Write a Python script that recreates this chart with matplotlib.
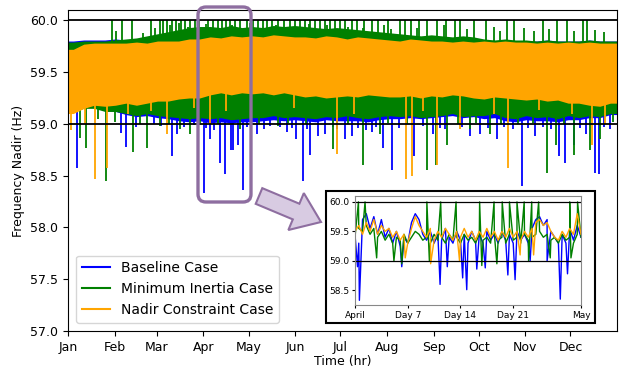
import numpy as np
import matplotlib.pyplot as plt
from matplotlib.patches import FancyBboxPatch, FancyArrow, Rectangle

# ---- main chart data (weekly envelopes) ----
months = ['Jan', 'Feb', 'Mar', 'Apr', 'May', 'Jun', 'Jul', 'Aug', 'Sep', 'Oct', 'Nov', 'Dec']
month_hours = [0, 744, 1416, 2160, 2880, 3624, 4344, 5088, 5832, 6552, 7296, 8016]

orange_hi = [59.72, 59.77, 59.78, 59.78, 59.78, 59.78, 59.79, 59.78, 59.80, 59.80, 59.80, 59.82, 59.82,
             59.84, 59.83, 59.85, 59.84, 59.85, 59.84, 59.86, 59.85, 59.84, 59.84, 59.83, 59.85, 59.84,
             59.82, 59.84, 59.83, 59.82, 59.81, 59.80, 59.82, 59.81, 59.80, 59.80, 59.79, 59.80, 59.79,
             59.80, 59.79, 59.80, 59.79, 59.79, 59.78, 59.79, 59.78, 59.79, 59.78, 59.79, 59.78, 59.78]
orange_lo = [59.10, 59.15, 59.18, 59.17, 59.18, 59.20, 59.18, 59.20, 59.22, 59.22, 59.24, 59.25, 59.25,
             59.28, 59.30, 59.28, 59.30, 59.29, 59.30, 59.28, 59.30, 59.28, 59.26, 59.27, 59.25, 59.26,
             59.27, 59.26, 59.28, 59.27, 59.26, 59.26, 59.27, 59.25, 59.27, 59.26, 59.28, 59.27, 59.25,
             59.24, 59.26, 59.25, 59.24, 59.23, 59.24, 59.22, 59.23, 59.20, 59.20, 59.18, 59.17, 59.20]
green_hi = [59.79, 59.80, 59.80, 59.80, 59.81, 59.82, 59.83, 59.85, 59.87, 59.89, 59.91, 59.93, 59.94,
            59.94, 59.93, 59.95, 59.93, 59.94, 59.93, 59.95, 59.94, 59.95, 59.94, 59.93, 59.92, 59.93,
            59.92, 59.91, 59.90, 59.89, 59.88, 59.87, 59.86, 59.85, 59.86, 59.85, 59.84, 59.85, 59.84,
            59.82, 59.81, 59.82, 59.81, 59.81, 59.80, 59.81, 59.80, 59.80, 59.80, 59.81, 59.80, 59.80]
green_lo = [59.12, 59.15, 59.15, 59.12, 59.12, 59.10, 59.08, 59.10, 59.08, 59.07, 59.06, 59.05, 59.06,
            59.05, 59.06, 59.04, 59.05, 59.06, 59.06, 59.08, 59.06, 59.07, 59.06, 59.05, 59.07, 59.06,
            59.08, 59.06, 59.05, 59.07, 59.08, 59.07, 59.08, 59.06, 59.07, 59.08, 59.10, 59.07, 59.08,
            59.08, 59.10, 59.06, 59.05, 59.08, 59.06, 59.07, 59.05, 59.08, 59.06, 59.08, 59.07, 59.10]
blue_hi = [59.80, 59.81, 59.81, 59.81, 59.82, 59.81, 59.82, 59.82, 59.82, 59.83, 59.84, 59.85, 59.85,
           59.86, 59.85, 59.86, 59.85, 59.86, 59.85, 59.86, 59.85, 59.86, 59.85, 59.85, 59.84, 59.85,
           59.84, 59.84, 59.83, 59.83, 59.82, 59.82, 59.82, 59.81, 59.81, 59.81, 59.80, 59.81, 59.80,
           59.81, 59.80, 59.81, 59.80, 59.80, 59.80, 59.81, 59.80, 59.80, 59.80, 59.81, 59.80, 59.80]
blue_lo = [59.14, 59.16, 59.16, 59.13, 59.12, 59.09, 59.07, 59.08, 59.06, 59.05, 59.03, 59.02, 59.03,
           59.01, 59.02, 59.01, 59.02, 59.02, 59.03, 59.04, 59.03, 59.04, 59.03, 59.02, 59.04, 59.03,
           59.03, 59.03, 59.02, 59.04, 59.05, 59.05, 59.06, 59.05, 59.06, 59.07, 59.08, 59.06, 59.07,
           59.05, 59.06, 59.03, 59.02, 59.04, 59.03, 59.03, 59.02, 59.04, 59.04, 59.06, 59.06, 59.09]

# spikes: (day of year, frequency)
blue_dips = [(5.8, 58.57), (35, 58.91), (38.4, 58.78), (45, 58.97), (57.2, 59.0), (69.2, 58.69),
             (72.5, 58.9), (90.4, 58.33), (94.4, 58.85), (101, 58.62), (104.4, 58.52), (108.2, 58.75),
             (109.7, 58.75), (113, 58.8), (116.6, 58.36), (125.7, 58.9), (130.3, 58.95), (145.6, 58.92),
             (151.6, 58.85), (156.3, 58.45), (161, 58.7), (166, 58.88), (171, 58.9), (184, 58.85),
             (189, 58.88), (202, 58.92), (209.5, 58.77), (215.3, 58.55), (230, 58.69), (242.7, 58.9),
             (250.7, 58.95), (267, 58.88), (274, 58.9), (285, 58.85), (301.7, 58.40), (310.5, 58.88),
             (326.5, 58.69), (330.5, 58.62), (336, 58.8), (344, 58.9), (350, 58.53), (353, 58.52),
             (360, 58.95), (62, 58.98), (77, 58.97), (84, 58.99), (92, 58.96), (97, 58.94),
             (119, 58.97), (134, 58.98), (141, 58.97), (149, 58.96), (159, 58.95), (176, 58.97),
             (179, 58.95), (193, 58.96), (198, 58.94), (205, 58.97), (220, 58.96), (236, 58.98),
             (247, 58.96), (262, 58.97), (279, 58.96), (290, 58.97), (296, 58.95), (306, 58.96),
             (316, 58.97), (321, 58.95), (340, 58.96), (356, 58.97)]
green_dips = [(8, 58.86), (11.8, 58.77), (25.5, 58.45), (43.4, 58.73), (52.7, 58.77), (61, 58.98),
              (74.5, 58.95), (81, 58.9), (114, 58.95), (139.7, 58.98), (176, 58.76), (196, 58.6),
              (207.5, 58.9), (238.5, 58.55), (244.7, 58.6), (252, 58.8), (267, 58.95), (280.6, 58.9),
              (318.3, 58.53), (324.5, 58.8), (336, 58.7), (347, 58.75), (353.8, 58.85),
              (20, 59.05), (31, 59.02), (48, 59.0), (67, 59.0), (88, 59.01), (100, 59.0), (127, 59.0),
              (146, 59.01), (158, 59.0), (186, 59.0), (213, 59.01), (225, 59.0), (259, 59.0),
              (271, 59.01), (288, 59.0), (299, 59.0), (309, 59.01), (330, 59.0), (362, 59.02)]
green_tops = [29.1, 35.9, 42.4, 55.0, 61.2, 63.2, 65.8, 69.2, 71.8, 75.1, 77.8, 81.1, 84.5, 87.1,
              93.0, 96.4, 99.8, 102.4, 105.1, 107.7, 111.1, 114.4, 119.0, 123.0, 126.4, 129.7, 132.4,
              135.7, 139.7, 143.5, 147.7, 151.0, 154.3, 157.6, 161.0, 164.3, 167.6, 170.9, 174.3,
              177.6, 180.9, 184.2, 188.9, 192.2, 197.0, 202.2, 206.2, 213.0, 220.8, 224.1, 228.1,
              233.0, 238.7, 245.4, 251.0, 257.4, 260.7, 270.0, 277.8, 292.0, 296.7, 316.0, 325.3,
              332.0, 342.0, 345.3]
green_mid_tops = [(32, 59.9), (50, 59.88), (58, 59.93), (68, 59.95), (74, 59.97), (80, 59.94),
                  (92, 59.96), (95, 59.93), (109, 59.95), (118, 59.93), (121, 59.97), (138, 59.95),
                  (143, 59.94), (160, 59.96), (172, 59.95), (186, 59.94), (196, 59.93), (210, 59.95),
                  (215, 59.92), (232, 59.93), (250, 59.95), (265, 59.92), (283, 59.94), (287, 59.9),
                  (303, 59.93), (310, 59.9), (320, 59.92), (336, 59.9), (350, 59.91), (356, 59.89)]
orange_dips = [(1.8, 58.94), (11, 59.0), (18, 58.47), (25.7, 58.57), (66, 58.9), (94.4, 59.0),
               (179, 58.71), (224.6, 58.47), (228.6, 58.5), (245.2, 58.6), (260.7, 58.95),
               (292.6, 58.57), (348.3, 58.8), (357, 59.0), (40, 59.1), (55, 59.12), (84, 59.15),
               (105, 59.12), (150, 59.15), (190, 59.1), (236, 59.12), (283, 59.1), (313, 59.13),
               (335, 59.1)]

# ---- inset data: April, 12-hourly base values plus spikes (hour, value) ----
april_hours = np.arange(0, 721, 12)
blue_april = [59.45, 59.3, 59.7, 59.8, 59.55, 59.75, 59.45, 59.7, 59.4, 59.55, 59.3, 59.5, 59.25,
              59.4, 59.3, 59.65, 59.8, 59.7, 59.45, 59.35, 59.5, 59.3, 59.45, 59.35, 59.55, 59.4,
              59.3, 59.5, 59.35, 59.45, 59.3, 59.5, 59.35, 59.45, 59.3, 59.5, 59.35, 59.45, 59.3,
              59.5, 59.35, 59.45, 59.3, 59.5, 59.35, 59.45, 59.3, 59.55, 59.7, 59.75, 59.6, 59.7,
              59.5, 59.4, 59.3, 59.45, 59.3, 59.55, 59.35, 59.6, 59.4]
green_april = [59.4, 59.55, 59.5, 59.6, 59.45, 59.55, 59.4, 59.5, 59.35, 59.45, 59.3, 59.4, 59.35,
               59.45, 59.3, 59.4, 59.5, 59.45, 59.35, 59.4, 59.3, 59.45, 59.35, 59.4, 59.3, 59.45,
               59.35, 59.4, 59.3, 59.45, 59.35, 59.4, 59.3, 59.45, 59.35, 59.4, 59.3, 59.45, 59.35,
               59.4, 59.3, 59.45, 59.35, 59.4, 59.3, 59.45, 59.35, 59.4, 59.45, 59.5, 59.4, 59.45,
               59.35, 59.4, 59.3, 59.45, 59.35, 59.4, 59.3, 59.45, 59.4]
orange_april = [59.5, 59.6, 59.45, 59.65, 59.5, 59.7, 59.45, 59.6, 59.5, 59.55, 59.4, 59.5, 59.35,
                59.45, 59.3, 59.55, 59.75, 59.6, 59.5, 59.4, 59.55, 59.35, 59.5, 59.4, 59.55, 59.45,
                59.35, 59.5, 59.4, 59.55, 59.4, 59.5, 59.35, 59.5, 59.4, 59.55, 59.4, 59.5, 59.35,
                59.5, 59.4, 59.55, 59.4, 59.5, 59.35, 59.5, 59.4, 59.55, 59.65, 59.7, 59.6, 59.65,
                59.5, 59.4, 59.35, 59.5, 59.4, 59.55, 59.45, 59.8, 59.45]
blue_april_spikes = [(8, 58.9), (14, 58.33), (149, 58.9), (271, 58.6), (294, 58.9), (343, 58.71),
                     (356, 58.51), (388, 58.86), (415, 58.88), (487, 58.76), (510, 58.68), (558, 59.0),
                     (612, 59.0), (654, 58.35), (677, 58.78)]
green_april_spikes = [(11, 60.0), (32, 60.0), (69, 59.05), (124, 59.0), (149, 58.95), (229, 60.0),
                      (237, 59.0), (273, 60.0), (322, 60.0), (397, 60.0), (404, 58.92), (443, 60.0),
                      (452, 58.95), (469, 60.0), (492, 60.0), (516, 60.0), (539, 60.0), (553, 59.0),
                      (563, 60.0), (585, 60.0), (622, 59.05), (684, 60.0), (688, 59.05), (709, 60.0)]
orange_april_spikes = [(160, 59.05), (241, 58.95), (333, 59.0), (526, 59.1), (569, 59.1)]

BLUE, GREEN, ORANGE = 'blue', 'green', 'orange'
PURPLE = '#8e6ea0'

plt.rcParams['font.family'] = 'DejaVu Sans'
fig = plt.figure(figsize=(6.24, 3.69), dpi=100)
ax = fig.add_axes([0.109, 0.103, 0.880, 0.870])

week_mid = np.concatenate([[0], np.arange(52) * 168 + 84, [8760]])


def band(lo, hi, color, z):
    lo = np.concatenate([[lo[0]], lo, [lo[-1]]])
    hi = np.concatenate([[hi[0]], hi, [hi[-1]]])
    ax.fill_between(week_mid, lo, hi, color=color, lw=0, zorder=z)


def spikes(data, color, base, z):
    d = np.array(data)
    ax.vlines(d[:, 0] * 24, d[:, 1], base, color=color, lw=1.3, zorder=z)


band(blue_lo, blue_hi, BLUE, 1.0)
spikes(blue_dips, BLUE, 59.3, 1.1)
band(green_lo, green_hi, GREEN, 1.2)
spikes(green_dips, GREEN, 59.3, 1.3)
ax.vlines(np.array(green_tops) * 24, 59.7, 60.0, color=GREEN, lw=1.3, zorder=1.3)
spikes(green_mid_tops, GREEN, 59.7, 1.3)
band(orange_lo, orange_hi, ORANGE, 1.4)
spikes(orange_dips, ORANGE, 59.4, 1.5)

ax.plot([], [], color=BLUE, label='Baseline Case')
ax.plot([], [], color=GREEN, label='Minimum Inertia Case')
ax.plot([], [], color=ORANGE, label='Nadir Constraint Case')

ax.axhline(60.0, color='black', lw=1.3, zorder=2)
ax.axhline(59.0, color='black', lw=1.3, zorder=2)
ax.set_xlim(0, 8760)
ax.set_ylim(57.0, 60.1)
ax.set_yticks([57.0, 57.5, 58.0, 58.5, 59.0, 59.5, 60.0])
ax.set_xticks(month_hours)
ax.set_xticklabels(months)
ax.tick_params(labelsize=9)
ax.set_xlabel('Time (hr)', fontsize=9, labelpad=1)
ax.set_ylabel('Frequency Nadir (Hz)', fontsize=9)
ax.legend(loc='lower left', fontsize=10, handlelength=2.0, borderaxespad=0.6)

# framed inset with April detail
fig.patches.append(Rectangle((0.5224, 0.1247), 0.4311, 0.3577, transform=fig.transFigure,
                             facecolor='white', edgecolor='black', lw=1.5, zorder=5))
ins = fig.add_axes([0.5689, 0.1734, 0.3622, 0.2954], zorder=6)


def inset_series(base, extra):
    t = np.concatenate([april_hours, [s[0] for s in extra]])
    v = np.concatenate([base, [s[1] for s in extra]])
    order = np.argsort(t, kind='stable')
    return t[order], v[order]


for base, extra, color in [(blue_april, blue_april_spikes, BLUE),
                           (green_april, green_april_spikes, GREEN),
                           (orange_april, orange_april_spikes, ORANGE)]:
    t, v = inset_series(base, extra)
    ins.plot(t, v, color=color, lw=1.0)
ins.axhline(60.0, color='black', lw=0.9)
ins.axhline(59.0, color='black', lw=0.9)
ins.set_xlim(0, 720)
ins.set_ylim(58.25, 60.1)
ins.set_yticks([58.5, 59.0, 59.5, 60.0])
ins.set_xticks([0, 168, 336, 504, 720])
ins.set_xticklabels(['April', 'Day 7', 'Day 14', 'Day 21', 'May'])
ins.tick_params(labelsize=6.5, length=2, pad=2)
for s in ins.spines.values():
    s.set_color('#888888')
    s.set_linewidth(0.8)

# highlight box and arrow, drawn in pixel coordinates of the figure
over = fig.add_axes([0, 0, 1, 1], zorder=10)
over.set_xlim(0, 624)
over.set_ylim(369, 0)
over.axis('off')
over.patch.set_alpha(0)
over.add_patch(FancyBboxPatch((204, 13), 41, 183, boxstyle='round,pad=6,rounding_size=8',
                              facecolor='none', edgecolor=PURPLE, lw=2.4))
over.add_patch(FancyArrow(259, 196, 62, 26, width=17, head_width=40, head_length=27,
                          length_includes_head=True, facecolor='#d8cbe2', edgecolor=PURPLE, lw=1.5))

fig.savefig('out.png', dpi=100)
